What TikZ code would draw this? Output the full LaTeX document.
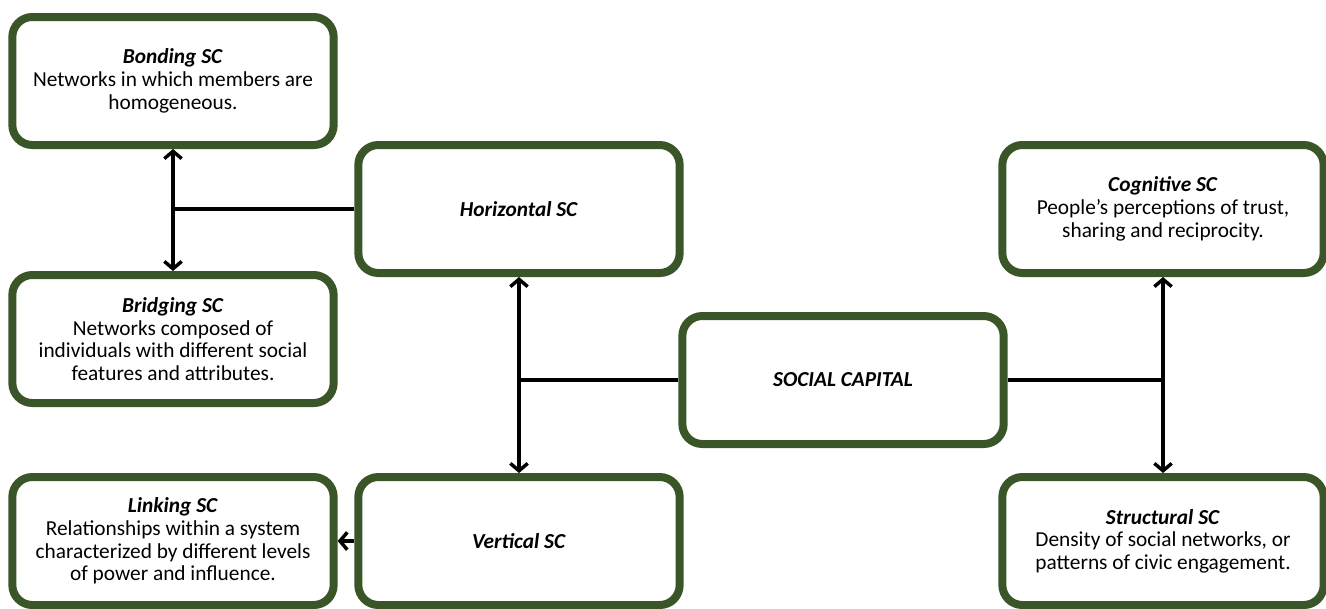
\documentclass[tikz,border=0pt]{standalone}
\usepackage{fontspec}
\setmainfont{Carlito}
\usepackage{xcolor}
\usepackage{tikz}
\usetikzlibrary{arrows.meta,positioning,shadows}
\definecolor{scgreen}{HTML}{3A5629}

\begin{document}
\begin{tikzpicture}[x=0.75pt,y=-0.75pt,
  scbox/.style={draw=scgreen,line width=6pt,rounded corners=15pt,fill=white,
    minimum width=241pt,minimum height=96pt,align=center,
    font=\fontsize{16}{17}\selectfont,
    drop shadow={shadow xshift=2pt,shadow yshift=-2.5pt,opacity=0.3,fill=black}},
  link/.style={line width=2.6pt,black},
  tip/.style={-{Straight Barb[length=5.5pt,width=13pt]}},
  tips/.style={{Straight Barb[length=5.5pt,width=13pt]}-{Straight Barb[length=5.5pt,width=13pt]}}]
  \useasboundingbox (0,0) rectangle (1326,608);
  % left column
  \node[scbox] (bonding) at (173,81) {\textbf{\textit{Bonding SC}}\\Networks in which members are\\homogeneous.};
  \node[scbox] (bridging) at (173,339) {\textbf{\textit{Bridging SC}}\\Networks composed of\\individuals with different social\\features and attributes.};
  \node[scbox] (linking) at (173,541) {\textbf{\textit{Linking SC}}\\Relationships within a system\\characterized by different levels\\of power and influence.};
  % middle column
  \node[scbox] (horizontal) at (519,209) {\textbf{\textit{Horizontal SC}}};
  \node[scbox] (vertical) at (519,541) {\textbf{\textit{Vertical SC}}};
  \node[scbox] (social) at (843,380) {\textbf{\textit{SOCIAL CAPITAL}}};
  % right column
  \node[scbox] (cognitive) at (1163,209) {\textbf{\textit{Cognitive SC}}\\People’s perceptions of trust,\\sharing and reciprocity.};
  \node[scbox] (structural) at (1163,541) {\textbf{\textit{Structural SC}}\\Density of social networks, or\\patterns of civic engagement.};
  % joins
  \coordinate (hjoin) at (bonding.south |- horizontal.west);
  \coordinate (vjoin) at (horizontal.south |- social.west);
  \coordinate (rjoin) at (cognitive.south |- social.east);
  \draw[link,tips] (bonding.south) -- (bridging.north);
  \draw[link] (horizontal.west) -- (hjoin);
  \draw[link,tips] (horizontal.south) -- (vertical.north);
  \draw[link] (social.west) -- (vjoin);
  \draw[link,tips] (cognitive.south) -- (structural.north);
  \draw[link] (social.east) -- (rjoin);
  \draw[link,tip] (vertical.west) -- (linking.east);
\end{tikzpicture}
\end{document}
